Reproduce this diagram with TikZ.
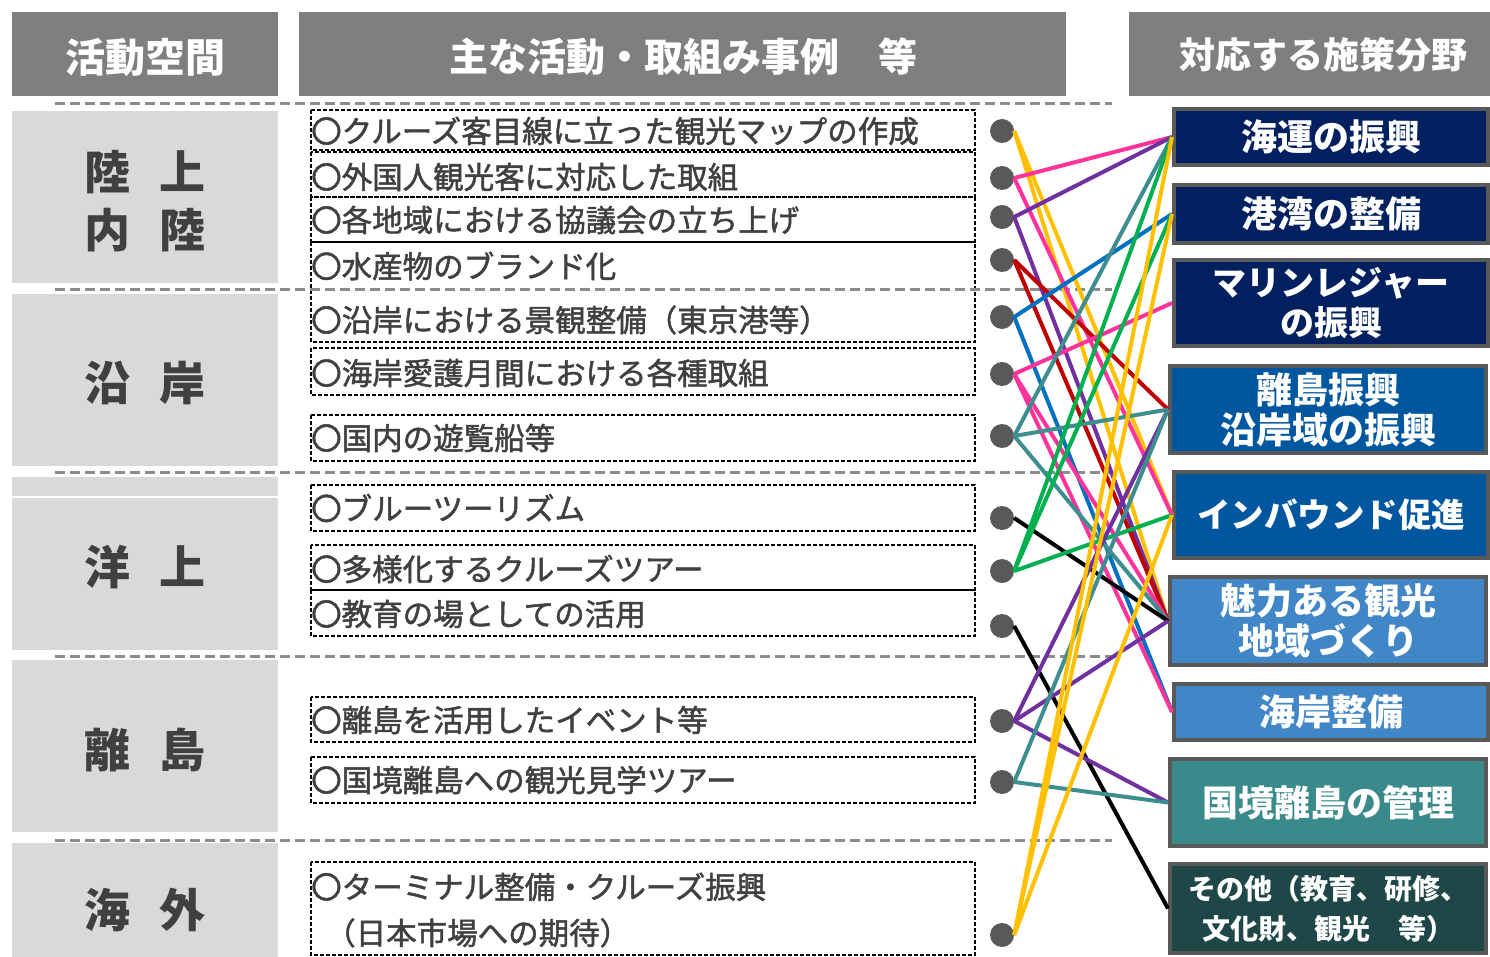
\documentclass[tikz,border=0pt]{standalone}
\usepackage{fontspec}
\setmainfont{Noto Sans CJK JP}
\newfontfamily\itemfont{Noto Sans CJK JP}[BoldFont={Noto Sans CJK JP}, BoldFeatures={FakeBold=1.6}]
\usetikzlibrary{calc}
\definecolor{hdr}{HTML}{7F7F7F}
\definecolor{lgray}{HTML}{D9D9D9}
\definecolor{dtext}{HTML}{404040}
\definecolor{dotc}{HTML}{595959}
\definecolor{sepc}{HTML}{8C8C8C}
\definecolor{navy}{HTML}{002060}
\definecolor{mblue}{HTML}{0057A0}
\definecolor{lblue}{HTML}{4187C8}
\definecolor{tealbox}{HTML}{3A8A8C}
\definecolor{dteal}{HTML}{1F4747}
\definecolor{cy}{HTML}{FFC000}
\definecolor{cp}{HTML}{FF3399}
\definecolor{cv}{HTML}{7030A0}
\definecolor{cr}{HTML}{C00000}
\definecolor{cb}{HTML}{0070C0}
\definecolor{ct}{HTML}{3E8D8F}
\definecolor{cg}{HTML}{00B050}
\begin{document}
\begin{tikzpicture}[x=1pt,y=-1pt,
  hdrtext/.style={inner sep=0pt, text=white, font=\bfseries\fontsize{39}{44}\selectfont},
  sidetext/.style={inner sep=0pt, text=dtext, align=center, font=\bfseries\fontsize{46}{58}\selectfont},
  itemtext/.style={inner sep=0pt, anchor=west, text=dtext, align=left, font=\itemfont\bfseries\fontsize{30.5}{46}\selectfont},
  itembox/.style={draw=black, line width=1.2pt, dash pattern=on 4pt off 2pt},
  sepline/.style={draw=sepc, line width=3pt, dash pattern=on 10pt off 5pt},
  dot/.style={circle, fill=dotc, inner sep=0pt, minimum size=24pt},
  rbox/.style={draw=dotc, line width=4pt, text=white, align=center, inner sep=0pt,
     font=\bfseries\fontsize{36}{40}\selectfont},
  conn/.style={line width=4pt}
]
\useasboundingbox (0,0) rectangle (1490,957);

% headers
\fill[hdr] (12,12) rectangle (278,96);
\fill[hdr] (299,12) rectangle (1066,96);
\fill[hdr] (1129,12) rectangle (1490,96);
\node[hdrtext, font=\bfseries\fontsize{40}{44}\selectfont] (h1) at (145,57) {活動空間};
\node[hdrtext] (h2) at (683,57) {主な活動・取組み事例　等};
\node[hdrtext, font=\bfseries\fontsize{36}{44}\selectfont] (h3) at (1323,55) {対応する施策分野};

% left category boxes
\fill[lgray] (12,111) rectangle (278,283);
\fill[lgray] (12,294) rectangle (278,466);
\fill[lgray] (12,477) rectangle (278,650);
\draw[white, line width=1.5pt] (12,497) -- (278,497);
\fill[lgray] (12,660) rectangle (278,832);
\fill[lgray] (12,843) rectangle (278,957);
\node[sidetext] (s1) at (145,201) {陸\hspace{30pt}上\\内\hspace{30pt}陸};
\node[sidetext] (s2) at (145,383) {沿\hspace{30pt}岸};
\node[sidetext] (s3) at (145,567) {洋\hspace{30pt}上};
\node[sidetext] (s4) at (145,750) {離\hspace{30pt}島};
\node[sidetext] (s5) at (145,910) {海\hspace{30pt}外};

% item boxes
\draw[itembox] (311,110) rectangle (975,150);
\draw[itembox] (311,152) rectangle (975,197);
\draw[itembox] (311,197) rectangle (975,242);
\draw[itembox] (311,242) rectangle (975,342);
\draw[itembox] (311,348) rectangle (975,395);
\draw[itembox] (311,415) rectangle (975,461);
\draw[itembox] (311,485) rectangle (975,531);
\draw[itembox] (311,545) rectangle (975,590);
\draw[itembox] (311,590) rectangle (975,636);
\draw[itembox] (311,697) rectangle (975,742);
\draw[itembox] (311,757) rectangle (975,803);
\draw[itembox] (311,862) rectangle (975,955);

% separators
\foreach \yy in {104,290,472,656,840} {
  \draw[sepline] (55,\yy) -- (1112,\yy);
}

% item texts
\node[itemtext] (t1) at (311,131) {〇クルーズ客目線に立った観光マップの作成};
\node[itemtext] (t2) at (311,177) {〇外国人観光客に対応した取組};
\node[itemtext] (t3) at (311,220) {〇各地域における協議会の立ち上げ};
\node[itemtext] (t4) at (311,266) {〇水産物のブランド化};
\node[itemtext] (t5) at (311,320) {〇沿岸における景観整備（東京港等）};
\node[itemtext] (t6) at (311,373) {〇海岸愛護月間における各種取組};
\node[itemtext] (t7) at (311,438) {〇国内の遊覧船等};
\node[itemtext] (t8) at (311,508) {〇ブルーツーリズム};
\node[itemtext] (t9) at (311,569) {〇多様化するクルーズツアー};
\node[itemtext] (t10) at (311,614) {〇教育の場としての活用};
\node[itemtext] (t11) at (311,720) {〇離島を活用したイベント等};
\node[itemtext] (t12) at (311,780) {〇国境離島への観光見学ツアー};
\node[itemtext] (t13) at (311,910) {〇ターミナル整備・クルーズ振興\\\hspace*{14pt}（日本市場への期待）};

% right boxes
\node[rbox, fill=navy, minimum width=314pt, minimum height=56pt] (b1) at (1331,137) {海運の振興};
\node[rbox, fill=navy, minimum width=314pt, minimum height=58pt] (b2) at (1331,214) {港湾の整備};
\node[rbox, fill=navy, minimum width=314pt, minimum height=86pt, font=\bfseries\fontsize{34}{40}\selectfont] (b3) at (1331,303) {マリンレジャー\\の振興};
\node[rbox, fill=mblue, minimum width=316pt, minimum height=87pt] (b4) at (1328,409.5) {離島振興\\沿岸域の振興};
\node[rbox, fill=mblue, minimum width=314pt, minimum height=86pt, font=\bfseries\fontsize{33.5}{40}\selectfont] (b5) at (1331,515) {インバウンド促進};
\node[rbox, fill=lblue, minimum width=316pt, minimum height=88pt] (b6) at (1328,621) {魅力ある観光\\地域づくり};
\node[rbox, fill=lblue, minimum width=314pt, minimum height=56pt] (b7) at (1331,712) {海岸整備};
\node[rbox, fill=tealbox, minimum width=316pt, minimum height=87pt] (b8) at (1328,802.5) {国境離島の管理};
\node[rbox, fill=dteal, minimum width=316pt, minimum height=89pt, font=\bfseries\fontsize{28}{40}\selectfont] (b9) at (1328,908.5) {その他（教育、研修、\\文化財、観光　等）};

% dots
\node[dot] (d1) at (1002,131) {};
\node[dot] (d2) at (1002,178) {};
\node[dot] (d3) at (1002,217) {};
\node[dot] (d4) at (1002,260) {};
\node[dot] (d5) at (1002,317) {};
\node[dot] (d6) at (1002,374) {};
\node[dot] (d7) at (1002,436) {};
\node[dot] (d8) at (1002,518) {};
\node[dot] (d9) at (1002,571) {};
\node[dot] (d10) at (1002,626) {};
\node[dot] (d11) at (1002,721) {};
\node[dot] (d12) at (1002,782) {};
\node[dot] (d13) at (1002,935) {};

% connectors
\draw[conn, cy] (d1.east) -- (b5.west);
\draw[conn, cy] (d1.east) -- (b6.west);
\draw[conn, cp] (d2.east) -- (b1.west);
\draw[conn, cp] (d2.east) -- (b5.west);
\draw[conn, cv] (d3.east) -- (b1.west);
\draw[conn, cv] (d3.east) -- (b6.west);
\draw[conn, cr] (d4.east) -- (b4.west);
\draw[conn, cr] (d4.east) -- (b6.west);
\draw[conn, cb] (d5.east) -- (b2.west);
\draw[conn, cb] (d5.east) -- (b7.west);
\draw[conn, cp] (d6.east) -- (b3.west);
\draw[conn, cp] (d6.east) -- (b6.west);
\draw[conn, cp] (d6.east) -- (b7.west);
\draw[conn, ct] (d7.east) -- (b1.west);
\draw[conn, ct] (d7.east) -- (b4.west);
\draw[conn, ct] (d7.east) -- (b6.west);
\draw[conn, black] (d8.east) -- (b6.west);
\draw[conn, cg] (d9.east) -- (b1.west);
\draw[conn, cg] (d9.east) -- (b2.west);
\draw[conn, cg] (d9.east) -- (b5.west);
\draw[conn, black] (d10.east) -- (b9.west);
\draw[conn, cv] (d11.east) -- (b4.west);
\draw[conn, cv] (d11.east) -- (b6.west);
\draw[conn, cv] (d11.east) -- (b8.west);
\draw[conn, ct] (d12.east) -- (b4.west);
\draw[conn, ct] (d12.east) -- (b8.west);
\draw[conn, cy] (d13.east) -- (b1.west);
\draw[conn, cy] (d13.east) -- (b2.west);
\draw[conn, cy] (d13.east) -- (b5.west);
\end{tikzpicture}
\end{document}
